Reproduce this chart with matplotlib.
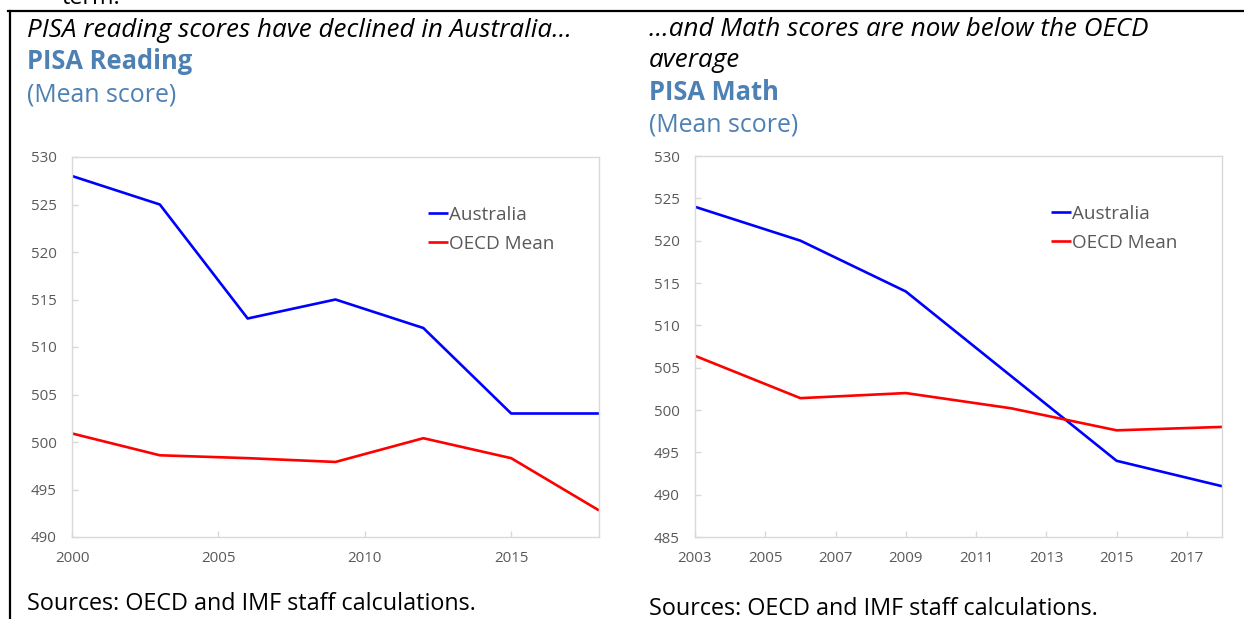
import matplotlib
matplotlib.use("Agg")
import matplotlib.pyplot as plt
from matplotlib.lines import Line2D

# ---- data ----
reading_years = [2000, 2003, 2006, 2009, 2012, 2015, 2018]
reading_australia = [528, 525, 513, 515, 512, 503, 503]
reading_oecd = [500.9, 498.6, 498.3, 497.9, 500.4, 498.3, 492.8]

math_years = [2003, 2006, 2009, 2012, 2015, 2018]
math_australia = [524, 520, 514, 504, 494, 491]
math_oecd = [506.4, 501.4, 502.0, 500.2, 497.6, 498.0]

reading_xticks = [2000, 2005, 2010, 2015]
math_xticks = [2003, 2005, 2007, 2009, 2011, 2013, 2015, 2017]
reading_yticks = [490, 495, 500, 505, 510, 515, 520, 525, 530]
math_yticks = [485, 490, 495, 500, 505, 510, 515, 520, 525, 530]
series_names = ["Australia", "OECD Mean"]

# ---- style ----
W, H = 1244, 619
FONT = "Open Sans"
plt.rcParams['font.family'] = [FONT, 'DejaVu Sans']
BLUE_T = "#4D80B3"
GRAY = "#595959"
SPINE = "#D9D9D9"
C_AUS = "#0000FF"
C_OECD = "#FF0000"

fig = plt.figure(figsize=(W / 100, H / 100), dpi=100)


def fx(px):
    return px / W


def fy(py):
    return 1 - py / H


def setup(ax, years, aus, oecd, xticks, yticks, xlim, ylim):
    ax.plot(years, aus, color=C_AUS, lw=1.9, label=series_names[0], solid_capstyle='butt')
    ax.plot(years, oecd, color=C_OECD, lw=1.9, label=series_names[1], solid_capstyle='butt')
    ax.set_xlim(*xlim)
    ax.set_ylim(*ylim)
    ax.set_xticks(xticks)
    ax.set_yticks(yticks)
    for s in ax.spines.values():
        s.set_color(SPINE)
        s.set_linewidth(1.0)
    ax.tick_params(axis='both', direction='in', length=4, width=1.0, color=SPINE,
                   labelcolor=GRAY, labelsize=10.8)
    ax.tick_params(axis='x', pad=10)
    ax.tick_params(axis='y', pad=11)
    leg = ax.legend(loc='upper left', bbox_to_anchor=(0.675, 0.872), frameon=False,
                    handlelength=1.05, handletextpad=0.05, labelspacing=0.6,
                    fontsize=13.6, borderaxespad=0, borderpad=0)
    for t in leg.get_texts():
        t.set_color(GRAY)


ax1 = fig.add_axes([fx(72), fy(537), fx(599) - fx(72), fy(157) - fy(537)])
setup(ax1, reading_years, reading_australia, reading_oecd, reading_xticks,
      reading_yticks, (2000, 2018), (490, 530))

ax2 = fig.add_axes([fx(695), fy(537), fx(1222) - fx(695), fy(156) - fy(537)])
setup(ax2, math_years, math_australia, math_oecd, math_xticks,
      math_yticks, (2003, 2018), (485, 530))

# ---- texts ----
TI = 18.7   # italic headline
TB = 18.4   # bold blue title
TR = 17.9   # blue subtitle
TS = 16.8   # sources
fig.text(fx(62), fy(4), "term.", fontsize=TS, color="black", va='baseline')
fig.text(fx(27), fy(37), "PISA reading scores have declined in Australia…",
         fontsize=TI, style='italic', color="black", va='baseline')
fig.text(fx(27), fy(69), "PISA Reading", fontsize=TB, weight='bold', color=BLUE_T, va='baseline')
fig.text(fx(27), fy(101), "(Mean score)", fontsize=TR, color=BLUE_T, va='baseline')
fig.text(fx(27), fy(610), "Sources: OECD and IMF staff calculations.", fontsize=TS,
         color="black", va='baseline')

fig.text(fx(649), fy(36), "…and Math scores are now below the OECD",
         fontsize=TI, style='italic', color="black", va='baseline')
fig.text(fx(649), fy(67), "average", fontsize=TI, style='italic', color="black", va='baseline')
fig.text(fx(649), fy(100), "PISA Math", fontsize=TB, weight='bold', color=BLUE_T, va='baseline')
fig.text(fx(649), fy(132), "(Mean score)", fontsize=TR, color=BLUE_T, va='baseline')
fig.text(fx(649), fy(615), "Sources: OECD and IMF staff calculations.", fontsize=TS,
         color="black", va='baseline')

# ---- frame lines ----
fig.add_artist(Line2D([fx(8), 1.0], [fy(11), fy(11)], color="black", lw=1.6,
                      transform=fig.transFigure))
fig.add_artist(Line2D([fx(9.5), fx(9.5)], [fy(11), 0.0], color="black", lw=1.6,
                      transform=fig.transFigure))

fig.savefig("out.png", dpi=100)
